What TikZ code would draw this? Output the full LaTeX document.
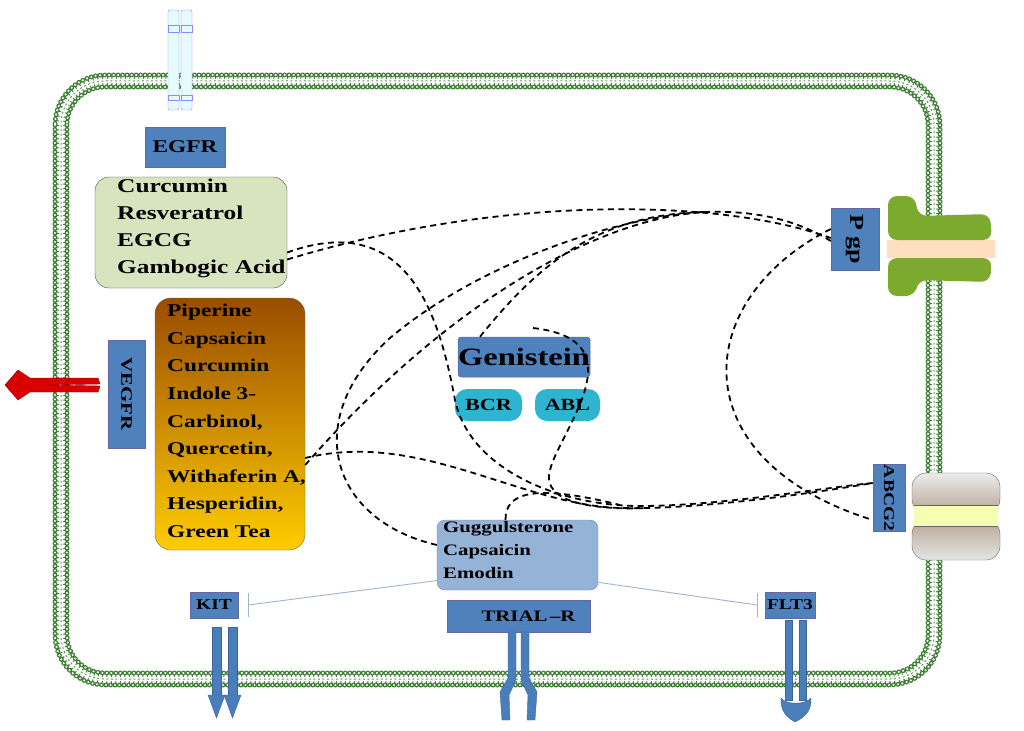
\documentclass[tikz,border=0pt]{standalone}
\usepackage{fontspec}
\setmainfont{Liberation Serif}[FakeStretch=1.3]
\begin{document}
\begin{tikzpicture}[x=1pt,y=-1pt,
  blue box/.style={draw=blue!40!black!60, fill=boxblue, line width=0.5pt, inner sep=0pt, font=\bfseries\fontsize{16}{16}\selectfont},
  link/.style={draw=black, line width=1.8pt, dash pattern=on 6pt off 4.5pt},
  inhib/.style={draw=lineblue, line width=0.9pt},
  rec/.style={fill=recblue, draw=recblue!80!black, line width=0.4pt}]
\definecolor{boxblue}{HTML}{4F81BD}
\definecolor{recblue}{HTML}{4A7EBB}
\definecolor{lineblue}{HTML}{9DB5D3}
\definecolor{memgreen}{HTML}{3F7F35}
\definecolor{lgreen}{HTML}{D7E4BD}
\definecolor{gugg}{HTML}{95B3D7}
\definecolor{cyanp}{HTML}{2EB3D1}
\definecolor{pgpgreen}{HTML}{7BAA2E}
\useasboundingbox (0,0) rectangle (1024,730);
\fill[white] (0,0) rectangle (1024,730);
% membrane
\draw[memgreen, line width=10pt, dash pattern=on 1pt off 3.5pt, rounded corners=44pt] (61,81) rectangle (934,679);
\draw[white, line width=4pt, rounded corners=44pt] (61,81) rectangle (934,679);
\draw[memgreen!80, line width=1pt, dash pattern=on 2pt off 2.5pt, rounded corners=44pt] (61,81) rectangle (934,679);
\foreach \o in {0,12}{
  \draw[memgreen, line width=5pt, dash pattern=on 0pt off 4.5pt, line cap=round, rounded corners=50pt-\o pt] (55+\o,75+\o) rectangle (940-\o,685-\o);
  \draw[white, line width=2.4pt, dash pattern=on 0pt off 4.5pt, line cap=round, rounded corners=50pt-\o pt] (55+\o,75+\o) rectangle (940-\o,685-\o);
}
% EGFR receptor
\foreach \x in {168,181}{
  \draw[fill=blue!15!cyan!10, draw=blue!45, rounded corners=2pt] (\x,10) rectangle (\x+11,110);
  \draw[fill=blue!25!cyan!10, draw=blue!45] (\x,25) rectangle (\x+11,32) (\x,95) rectangle (\x+11,100);
}
\node[blue box, minimum width=80pt, minimum height=40pt, font=\bfseries\fontsize{18}{18}\selectfont] (egfr) at (185,147) {EGFR};
% green box
\node[draw=black!70, fill=lgreen, rounded corners=14pt, minimum width=192pt, minimum height=111pt, inner sep=0pt] (g) at (191,232.5) {};
\node[font=\bfseries\fontsize{19.5}{27}\selectfont, align=left, anchor=north west, inner sep=0pt] (gt) at (117,179) {Curcumin\\Resveratrol\\EGCG\\Gambogic Acid};
% piperine box
\node[draw=black!60, top color=black!40!orange, bottom color=yellow!60!orange, rounded corners=16pt, minimum width=150pt, minimum height=252pt, inner sep=0pt] (p) at (230,424) {};
\node[font=\bfseries\fontsize{18}{27.6}\selectfont, align=left, anchor=north west, inner sep=0pt] (pt) at (167,304) {Piperine\\Capsaicin\\Curcumin\\Indole 3-\\Carbinol,\\Quercetin,\\Withaferin A,\\Hesperidin,\\Green Tea};
% VEGFR
\node[blue box, minimum width=37pt, minimum height=108pt] (vegfr) at (126.5,394) {};
\node[rotate=-90, font=\bfseries\fontsize{16}{16}\selectfont] at (vegfr.center) {VEGFR};
\fill[red!85!black, draw=red!50!black, line width=0.4pt] (5,385) -- (18,370) -- (30,378) -- (98,378) -- (100,384) -- (45,385) -- (100,386) -- (98,392) -- (30,392) -- (18,400) -- cycle;
% Genistein
\node[blue box, minimum width=132pt, minimum height=40pt, rounded corners=3pt, font=\bfseries\fontsize{25}{25}\selectfont] (gen) at (524,357) {Genistein};
\node[fill=cyanp, rounded corners=12pt, minimum width=67pt, minimum height=32pt, inner sep=0pt, font=\bfseries\fontsize{17}{17}\selectfont] (bcr) at (488.5,405) {BCR};
\node[fill=cyanp, rounded corners=12pt, minimum width=65pt, minimum height=32pt, inner sep=0pt, font=\bfseries\fontsize{17}{17}\selectfont] (abl) at (567.5,405) {ABL};
% Pgp
\node[blue box, minimum width=48pt, minimum height=62pt] (pgp) at (855,239) {};
\node[rotate=-90, font=\bfseries\fontsize{20}{20}\selectfont] at (pgp.center) {P gp};
\fill[orange!25] (887,240) rectangle (995,258);
\fill[pgpgreen, rounded corners=9pt] (888,196) -- (915,196) -- (918,216) -- (990,214) -- (992,240) -- (888,240) -- cycle;
\fill[pgpgreen, rounded corners=9pt] (888,258) -- (992,258) -- (990,282) -- (918,280) -- (915,296) -- (888,296) -- cycle;
% ABCG2
\node[blue box, minimum width=32pt, minimum height=67pt] (abcg2) at (889,498) {};
\node[rotate=-90, font=\bfseries\fontsize{15}{15}\selectfont] at (abcg2.center) {ABCG2};
\draw[black!60, top color=gray!15, bottom color=gray!60!brown!70, rounded corners=14pt] (912,473) rectangle (1000,513);
\draw[black!60, top color=gray!60!brown!70, bottom color=gray!20, rounded corners=14pt] (912,520) rectangle (1000,560);
\fill[green!15!yellow!30] (914,505) rectangle (998,526);
\draw[black!60] (914,505) -- (998,505) (914,526) -- (998,526);
% Guggulsterone
\node[draw=blue!40!black!50, fill=gugg, rounded corners=8pt, minimum width=161pt, minimum height=70pt, inner sep=0pt] (gg) at (517.5,555) {};
\node[font=\bfseries\fontsize{16}{23}\selectfont, align=left, anchor=north west, inner sep=0pt] at (443,521) {Guggulsterone\\Capsaicin\\Emodin};
% bottom boxes
\node[blue box, minimum width=48pt, minimum height=26pt, font=\bfseries\fontsize{15}{15}\selectfont] (kit) at (214,605) {KIT};
\node[blue box, minimum width=143pt, minimum height=32pt, font=\bfseries\fontsize{16}{16}\selectfont] (trail) at (518.5,616) {\hspace*{20pt}TRIAL\,--R};
\node[blue box, minimum width=50pt, minimum height=26pt, font=\bfseries\fontsize{15}{15}\selectfont] (flt3) at (790,605) {FLT3};
% inhibition
\coordinate (kb) at (248,605); \coordinate (fb) at (757,605);
\draw[inhib] (gg.south west)++(3,-10) -- (kb);
\draw[inhib] (kb)++(0,-12) -- ++(0,24);
\draw[inhib] (gg.south east)++(-1,-8) -- (fb);
\draw[inhib] (fb)++(0,-12) -- ++(0,24);
% KIT receptor
\foreach \x in {212,228}{
  \fill[rec] (\x,627) rectangle (\x+9,695);
  \fill[rec] (\x-4,695) -- (\x+13,695) -- (\x+4.5,718) -- cycle;
}
% TRAIL-R receptor
\fill[rec] (508,632) -- (516,632) -- (516,680) -- (509,695) -- (510,720) -- (502,720) -- (500,692) -- (508,678) -- cycle;
\fill[rec] (521,632) -- (529,632) -- (529,678) -- (537,692) -- (535,720) -- (527,720) -- (528,695) -- (521,680) -- cycle;
% FLT3 receptor
\fill[rec] (785,620) rectangle (792,700);
\fill[rec] (799,620) rectangle (806,700);
\fill[rec] (781,698) .. controls (780,712) and (788,718) .. (795,722) .. controls (803,718) and (812,712) .. (811,698) .. controls (805,705) and (786,705) .. cycle;
% dashed links
\coordinate (mid) at (705,212);
\draw[link] ([yshift=-27]g.east) .. controls (500,195) and (720,198) .. ([yshift=1]pgp.west);
\draw[link] ([yshift=-20]g.east) .. controls (410,208) and (440,320) .. (455,400) .. controls (470,470) and (560,506) .. (640,506) .. controls (720,506) and (820,488) .. ([yshift=15]abcg2.west);
\draw[link] ([yshift=-41]p.east) .. controls (450,300) and (600,218) .. (mid) .. controls (760,210) and (800,222) .. ([yshift=-2]pgp.west);
\draw[link] ([yshift=10]gg.west) .. controls (330,520) and (300,420) .. (390,338) .. controls (480,262) and (620,216) .. (mid);
\draw[link] ([xshift=-44]gen.north) .. controls (540,262) and (600,214) .. (mid);
\draw[link] ([yshift=-34]p.east) .. controls (420,430) and (520,505) .. (620,508) .. controls (700,510) and (820,492) .. ([yshift=15]abcg2.west);
\draw[link] (533,328) .. controls (640,340) and (560,430) .. (550,470) .. controls (540,505) and (600,510) .. (650,508);
\draw[link] ([yshift=10]pgp.west) .. controls (690,300) and (680,460) .. ([yshift=-22]abcg2.west);
\draw[link] ([xshift=-12]gg.north) .. controls (505,490) and (540,485) .. (620,505);
\end{tikzpicture}
\end{document}
